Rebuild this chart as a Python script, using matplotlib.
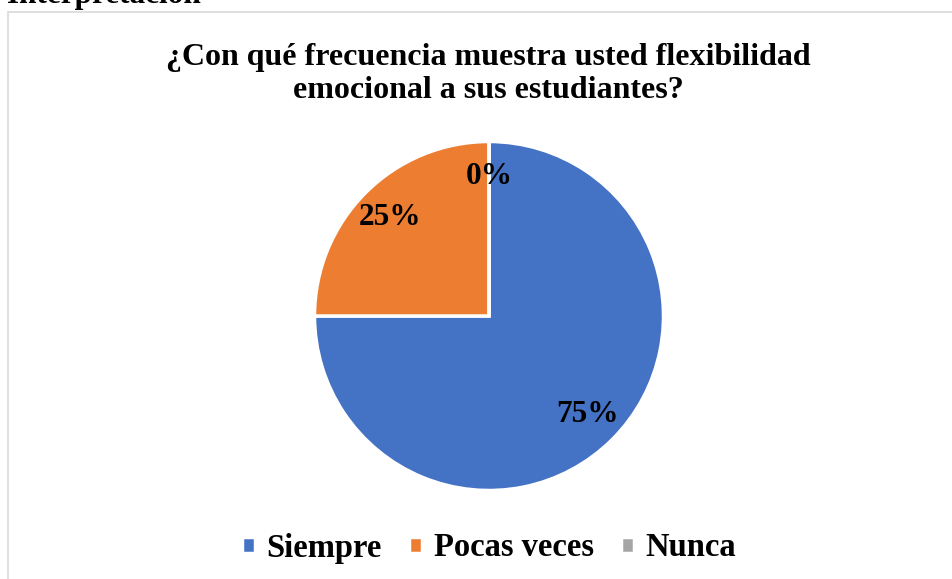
import matplotlib.pyplot as plt
from matplotlib.patches import Rectangle

categories = ['Siempre', 'Pocas veces', 'Nunca']
values = [75, 25, 0]
colors = ['#4472C4', '#ED7D31', '#A5A5A5']
title = '¿Con qué frecuencia muestra usted flexibilidad\nemocional a sus estudiantes?'

plt.rcParams['font.family'] = ['Liberation Serif', 'DejaVu Serif']
plt.rcParams['font.weight'] = 'bold'

W, H = 953, 579
fig = plt.figure(figsize=(W / 100, H / 100), dpi=100)

# chart frame (cut off at right and bottom)
fig.patches.append(Rectangle((8.5 / W, -0.05), 1.0, 1 - 11.5 / H + 0.05,
                             transform=fig.transFigure, fill=False,
                             edgecolor='#D9D9D9', lw=1.2))
# heading above the chart, mostly cut off
fig.text(7 / W, 1 - 3 / H, 'Interpretación', fontsize=22.5, fontweight='bold',
         ha='left', va='baseline')

# pie
r = 174.5
cx, cy = 489, 316
ax = fig.add_axes([(cx - 1.25 * r) / W, 1 - (cy + 1.25 * r) / H,
                   2.5 * r / W, 2.5 * r / H])
wedges, texts, autotexts = ax.pie(
    values, colors=colors, startangle=90, counterclock=False,
    autopct='%1.0f%%', pctdistance=0.8,
    wedgeprops=dict(edgecolor='white', linewidth=2.5),
    textprops=dict(fontsize=22.5, fontweight='bold', color='black'))
ax.set_xlim(-1.25, 1.25)
ax.set_ylim(-1.25, 1.25)
ax.set_aspect('equal')

fig.text(488 / W, 1 - 74 / H, title, fontsize=23, fontweight='bold',
         ha='center', va='center', linespacing=1.2)

leg = fig.legend(wedges, categories, loc='center', bbox_to_anchor=(489 / W, 1 - 548 / H),
                 ncol=3, frameon=False, fontsize=23.5, handlelength=0.4, handleheight=0.4,
                 handletextpad=0.35, columnspacing=0.85)
for t in leg.get_texts():
    t.set_fontweight('bold')

fig.savefig('out.png', dpi=100)
